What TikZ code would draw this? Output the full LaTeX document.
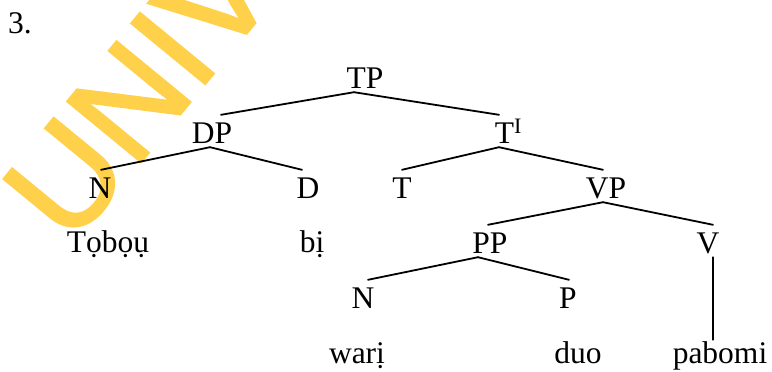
\documentclass[tikz,border=0pt]{standalone}
\usepackage{fontspec}
\setmainfont{Liberation Serif}
\newfontfamily\markfont[FakeBold=2]{Liberation Sans}
\definecolor{markyellow}{RGB}{255,209,74}
\begin{document}
\begin{tikzpicture}[x=1pt,y=-1pt,
  lbl/.style={inner sep=0pt,text height=28pt,text depth=4pt,anchor=base,
    font=\fontsize{31.5}{36}\selectfont},
  branch/.style={line width=1.8pt,line cap=round}]
\useasboundingbox (0,0) rectangle (772,372);
\clip (0,0) rectangle (772,372);
% background watermark
\node[inner sep=0pt,anchor=base west,rotate=50.6,text=markyellow,
  font=\markfont\fontsize{138}{160}\selectfont] (wm) at (70.5,247.5) {UNIVERSITY};
% example number
\node[lbl,anchor=base west] (num) at (8,33) {3.};
% tree labels
\node[lbl] (TP) at (365,88) {TP};
\node[lbl] (DP) at (212,143) {DP};
\node[lbl] (Tbar) at (504.5,143) {T\rlap{\textsuperscript{I}}};
\node[lbl] (N1) at (100,198) {N};
\node[lbl] (D) at (308,198) {D};
\node[lbl] (T) at (402,198) {T};
\node[lbl] (VP) at (606,198) {VP};
\node[lbl] (tobou) at (108,252) {Tọbọụ};
\node[lbl] (bi) at (312,252) {bị};
\node[lbl] (PP) at (490,253) {PP};
\node[lbl] (V) at (708,253) {V};
\node[lbl] (N2) at (363,308) {N};
\node[lbl] (P) at (568,308) {P};
\node[lbl] (wari) at (357,363) {warị};
\node[lbl] (duo) at (578,363) {duo};
\node[lbl] (pabomi) at (720,363) {pabomi};
% branches
\draw[branch] ([xshift=-11pt]TP.south) -- ([xshift=9pt]DP.north);
\draw[branch] ([xshift=-11pt]TP.south) -- ([xshift=-5.5pt]Tbar.north);
\draw[branch] ([xshift=-2pt]DP.south) -- ([xshift=1pt]N1.north);
\draw[branch] ([xshift=-2pt]DP.south) -- ([xshift=-6pt]D.north);
\draw[branch] ([xshift=-5.5pt]Tbar.south) -- (T.north);
\draw[branch] ([xshift=-5.5pt]Tbar.south) -- ([xshift=-3pt]VP.north);
\draw[branch] ([xshift=-3pt]VP.south) -- ([xshift=-2pt]PP.north);
\draw[branch] ([xshift=-3pt]VP.south) -- ([xshift=5pt]V.north);
\draw[branch] ([xshift=-12pt]PP.south) -- ([xshift=5pt]N2.north);
\draw[branch] ([xshift=-12pt]PP.south) -- ([xshift=1pt]P.north);
\draw[branch] ([xshift=5pt]V.south) -- ([xshift=-7pt,yshift=-5pt]pabomi.north);
\end{tikzpicture}
\end{document}
